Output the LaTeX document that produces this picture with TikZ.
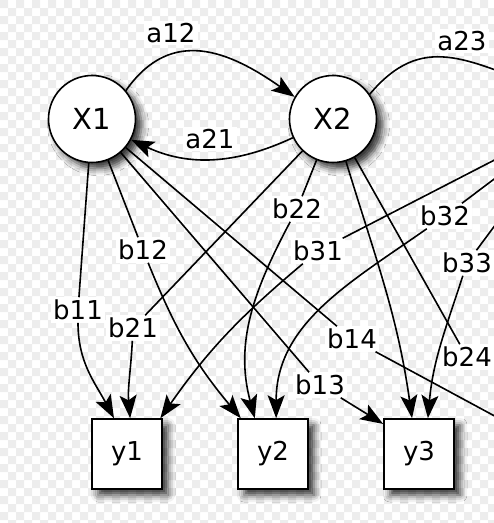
\documentclass[tikz,border=0pt]{standalone}
\usepackage{fontspec}
\setmainfont{DejaVu Sans}
\usetikzlibrary{arrows.meta, shadows.blur}

\begin{document}
\begin{tikzpicture}[
    x=1pt, y=1pt,
    hidden/.style={circle, draw, line width=1.6pt, fill=white, minimum size=87pt, inner sep=0pt, font=\fontsize{29}{34}\selectfont, blur shadow={shadow xshift=6pt, shadow yshift=-6pt, shadow blur radius=7pt, shadow opacity=80}},
    obs/.style={rectangle, draw, line width=1.6pt, fill=white, minimum size=70pt, inner sep=0pt, font=\fontsize{26}{30}\selectfont, blur shadow={shadow xshift=6pt, shadow yshift=-6pt, shadow blur radius=7pt, shadow opacity=80}},
    lbl/.style={fill=white, inner sep=2.5pt, font=\fontsize{26}{30}\selectfont},
    edge/.style={line width=1.6pt},
    >={Stealth[length=23pt, width=17pt, inset=5pt]}
]
\path[use as bounding box, clip] (0,0) rectangle (494,-523);
\fill[gray!14] \foreach \i in {0,16,...,496} {\foreach \j in {0,16,...,528} {(\i,-\j) rectangle ++(8,-8) (\i+8,-\j-8) rectangle ++(8,-8)}};

\node[hidden] (X1) at (92,-119) {X1};
\node[hidden] (X2) at (333,-119) {X2};
\coordinate (X3) at (574,-119);
\node[obs] (y1) at (127,-454) {y1};
\node[obs] (y2) at (273,-454) {y2};
\node[obs] (y3) at (419,-454) {y3};
\coordinate (y4) at (565,-454);

\node[lbl] (a12) at (171,-33) {a12};
\node[lbl] (a21) at (210,-139) {a21};
\node[lbl] (a23) at (462,-41) {a23};
\node[lbl] (b11) at (78,-310) {b11};
\node[lbl] (b12) at (143,-250) {b12};
\node[lbl] (b13) at (320,-385) {b13};
\node[lbl] (b14) at (352,-339) {b14};
\node[lbl] (b21) at (133,-328) {b21};
\node[lbl] (b22) at (297,-209) {b22};
\node[lbl] (b24) at (467,-357) {b24};
\node[lbl] (b31) at (318,-251) {b31};
\node[lbl] (b32) at (445,-216) {b32};
\node[lbl] (b33) at (467,-263) {b33};

\draw[edge,->] (X1.40) to[out=55,in=145,looseness=1.2] (X2.150);
\draw[edge,->] (X2.205) to[out=205,in=-25] (X1.-28);
\draw[edge] (X2.34) to[out=50,in=160,looseness=1.2] ([shift={(135:44)}]X3);

\draw[edge] (X1) -- (b11);
\draw[edge,->] (b11) to[out=-90,in=118] (y1.110);
\draw[edge] (X1) -- (b12);
\draw[edge,->] (b12) to[out=-68,in=130] (y2.132);
\draw[edge] (X1) -- (b13);
\draw[edge,->] (b13) -- (y3.140);
\draw[edge] (X1) -- (b14);
\draw[edge,->] (b14) -- (y4);

\draw[edge] (X2) -- (b21);
\draw[edge,->] (b21) to[out=-93,in=95] (y1.85);
\draw[edge] (X2) -- (b22);
\draw[edge,->] (b22) to[out=-118,in=105] (y2.117);
\draw[edge,->] (X2) to[out=-73,in=98] (y3.101);
\draw[edge] (X2) -- (b24);

\draw[edge] (X3) -- (b31);
\draw[edge,->] (b31) to[out=-140,in=55] (y1.47);
\draw[edge] (X3) -- (b32);
\draw[edge,->] (b32) to[out=-145,in=90] (y2.85);
\draw[edge] (X3) -- (b33);
\draw[edge,->] (b33) to[out=-108,in=85] (y3.76);
\end{tikzpicture}
\end{document}
